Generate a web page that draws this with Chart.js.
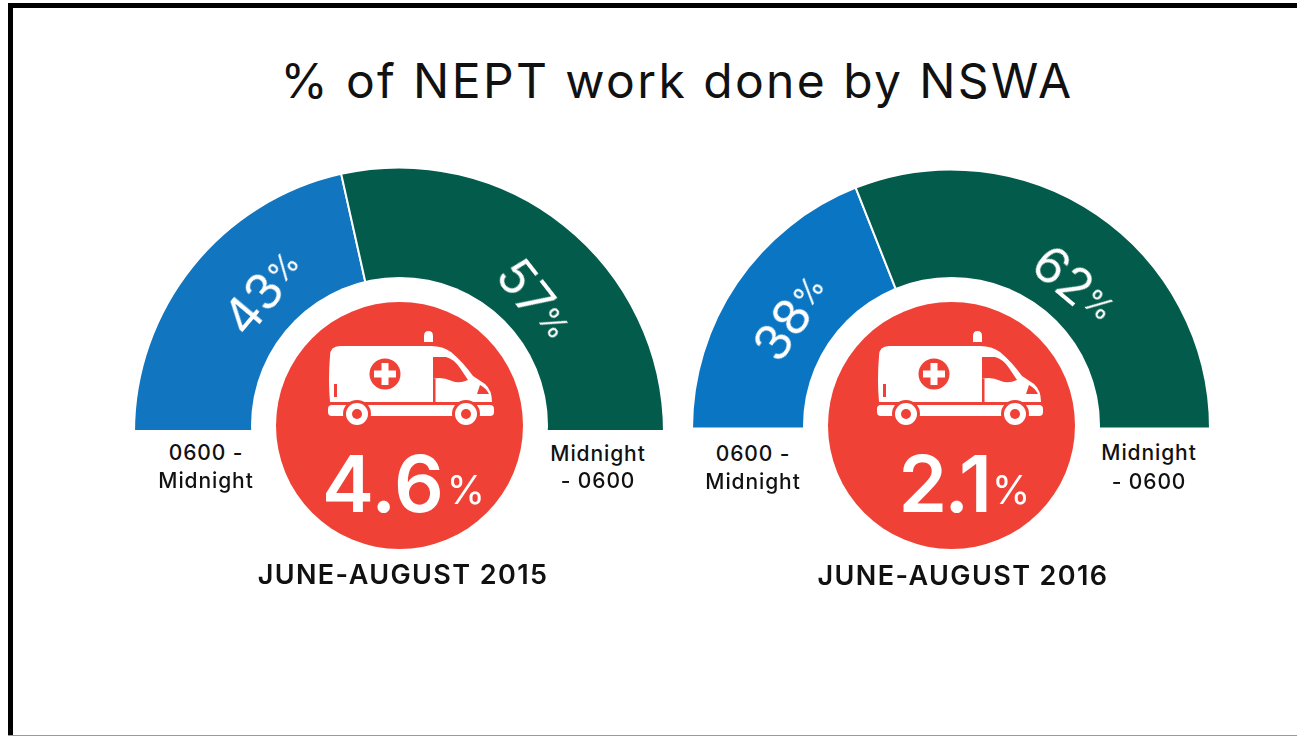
<!DOCTYPE html>
<html><head><meta charset="utf-8">
<style>
html,body{margin:0;padding:0;background:#fff;width:1297px;height:736px;overflow:hidden;font-family:Inter,Lato,sans-serif}
#frameTop{position:absolute;left:8px;top:3px;width:1289px;height:5px;background:#000}
#frameLeft{position:absolute;left:8px;top:3px;width:5px;height:733px;background:#000}
#frameBottom{position:absolute;left:8px;top:735px;width:1289px;height:1px;background:#999}
.clip{position:absolute;overflow:hidden}
.disc{position:absolute;border-radius:50%}
.t{position:absolute;white-space:nowrap;line-height:1}
.t span{font-size:.62em}
svg{position:absolute}
</style>
<script src="https://cdn.jsdelivr.net/npm/chart.js@4"></script>
</head><body>
<div id="frameTop"></div><div id="frameLeft"></div><div id="frameBottom"></div>
<svg width="0" height="0" style="position:absolute"><defs>
<g id="van">
<path fill="#fff" d="M3,26 Q3,16 13,16 L104,16 Q116,16 124,22 Q136,32 146,46 L158,54 Q165,60 165,72 L3,72 Q1,50 3,26 Z"/>
<path fill="#fff" d="M97,12 L97,6 Q97,1 101.500,1 Q106,1 106,6 L106,12 Z"/>
<circle cx="58" cy="44" r="15.500" fill="#EF4136"/>
<path fill="#fff" d="M54.500,33 H61.500 V40.500 H69 V47.500 H61.500 V55 H54.500 V47.500 H47 V40.500 H54.500 Z"/>
<path fill="#EF4136" d="M106,27 L119,27 Q127,29 133,38 L141,50 Q132,54 125,51 Q114,46 106,49 Z"/>
<rect x="106" y="49" width="2.500" height="23" fill="#EF4136"/>
<path fill="#EF4136" d="M153,55 Q159,58 162,64 L150,64 Z"/>
<rect x="7" y="54" width="3" height="13" fill="#EF4136"/>
<rect x="1" y="75" width="166" height="11" rx="4" fill="#fff"/>
<circle cx="30" cy="84" r="14" fill="#EF4136"/><circle cx="139" cy="84" r="14" fill="#EF4136"/>
<circle cx="30" cy="84" r="11" fill="#fff"/><circle cx="139" cy="84" r="11" fill="#fff"/>
<circle cx="30" cy="84" r="5" fill="#EF4136"/><circle cx="139" cy="84" r="5" fill="#EF4136"/>
</g></defs></svg>
<script>
const categories = ['0600 - Midnight', 'Midnight - 0600'];
const shares2015 = [43, 57];
const shares2016 = [38, 62];
const nswaShare = [4.6, 2.1];
const periods = ['JUNE-AUGUST 2015', 'JUNE-AUGUST 2016'];
const chartTitle = '% of NEPT work done by NSWA';

function text(html, x, y, size, weight, color, extra, rot) {
  const d = document.createElement('div');
  d.className = 't'; d.innerHTML = html;
  d.style.cssText = `left:${x}px;top:${y}px;font-size:${size}px;font-weight:${weight};color:${color};transform:translate(-50%,-50%) rotate(${rot||0}deg);${extra||''}`;
  document.body.appendChild(d);
  return d;
}
function gauge(values, colors, cx, cy, r, base, discX, discY) {
  const wrap = document.createElement('div');
  wrap.className = 'clip';
  const pad = 2;
  wrap.style.cssText = `left:${cx - r - pad}px;top:${cy - r - pad}px;width:${2 * r + 2 * pad}px;height:${base - (cy - r - pad)}px`;
  const c = document.createElement('canvas');
  c.width = 2 * r + 2 * pad; c.height = r + pad;
  c.style.cssText = `display:block;width:${c.width}px;height:${c.height}px`;
  wrap.appendChild(c); document.body.appendChild(wrap);
  new Chart(c, {
    type: 'doughnut',
    data: { labels: categories, datasets: [{ data: values, backgroundColor: colors, borderColor: '#fff', borderWidth: 2, radius: r + 1, cutout: '50%' }] },
    options: { responsive: false, animation: false, rotation: -90, circumference: 180, layout: { padding: 0 },
      plugins: { legend: { display: false }, tooltip: { enabled: false } } }
  });
  const white = document.createElement('div');
  white.className = 'disc';
  white.style.cssText = `left:${discX - 148.5}px;top:${discY - 148.5}px;width:297px;height:297px;background:#fff`;
  document.body.appendChild(white);
  const red = document.createElement('div');
  red.className = 'disc';
  red.style.cssText = `left:${discX - 123.5}px;top:${discY - 123.5}px;width:247px;height:247px;background:#EF4136`;
  document.body.appendChild(red);
}
gauge(shares2015, ['#1176BF', '#035C4B'], 399, 433, 264, 430, 399.5, 425.5);
gauge(shares2016, ['#0A75C2', '#035C4B'], 951, 429, 258, 429, 951, 425.5);

function van(x, y) {
  const s = document.createElementNS('http://www.w3.org/2000/svg', 'svg');
  s.setAttribute('width', 170); s.setAttribute('height', 100);
  s.style.left = x + 'px'; s.style.top = y + 'px';
  s.innerHTML = '<use href="#van"/>';
  document.body.appendChild(s);
}
van(327, 330); van(876, 330);

text(chartTitle, 677, 81, 48, 400, '#111', 'letter-spacing:2.4px');
const pct = v => `${v}<span style="position:relative;top:-7px">%</span>`;
text(pct(shares2015[0]), 263, 292, 50, 400, '#fff', '', -50);
text(pct(shares2015[1]), 535, 300, 50, 400, '#fff', '', 52);
text(pct(shares2016[0]), 791, 317, 50, 400, '#fff', '', -55);
text(pct(shares2016[1]), 1075, 285, 50, 400, '#fff', '', 40);
const big = (v, gap) => `${v}<span style="font-size:.5em;font-weight:400;letter-spacing:0;position:relative;top:-8px;margin-left:${gap}px">%</span>`;
text(big(nswaShare[0], 3), 403.5, 484, 78, 600, '#fff');
text(big(nswaShare[1], 3), 964.5, 484, 78, 600, '#fff', 'letter-spacing:-3px');

const lab = [[206,452,'0600 -'],[206,480,'Midnight'],[598,453,'Midnight'],[598,480,'- 0600'],
             [753,453,'0600 -'],[753,481,'Midnight'],[1149,452,'Midnight'],[1149,481,'- 0600']];
lab.forEach(l => text(l[2], l[0], l[1], 21, 500, '#111', 'letter-spacing:.9px'));
text(periods[0], 403, 574, 27, 600, '#111', 'letter-spacing:1.4px');
text(periods[1], 963, 575, 27, 600, '#111', 'letter-spacing:1.4px');
</script>
</body></html>
